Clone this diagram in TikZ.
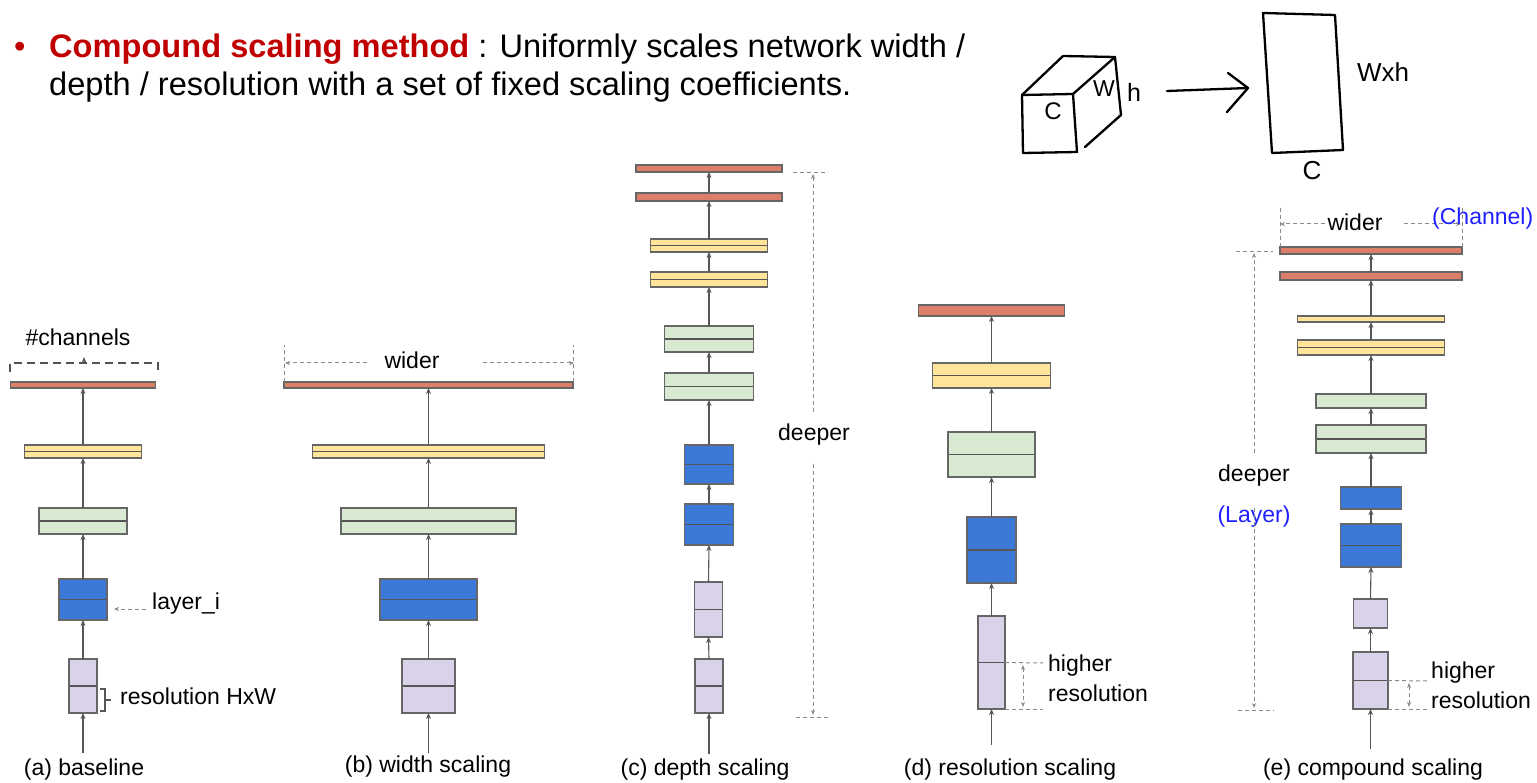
\documentclass[tikz,border=0pt]{standalone}
\usepackage{fontspec}
\setmainfont{Liberation Sans}
\usetikzlibrary{arrows.meta,fit}

\definecolor{barred}{HTML}{DD7E6B}
\definecolor{baryellow}{HTML}{FFE599}
\definecolor{bargreen}{HTML}{D9EAD3}
\definecolor{barblue}{HTML}{3C78D8}
\definecolor{barpurple}{HTML}{D9D2E9}
\definecolor{edgegray}{HTML}{666666}
\definecolor{flowgray}{HTML}{555555}
\definecolor{guidegray}{HTML}{8A8A8A}
\definecolor{titlered}{HTML}{C00000}
\definecolor{notebluec}{HTML}{1F1FFF}

% a layer drawn as a box between two rows, centred on a column
\newcommand\layerbox[6]{\node[#2, fit={({#3-#6/2},#4) ({#3+#6/2},#5)}] (#1) {};}

\tikzset{
  lay/.style={draw=edgegray, line width=1.1pt, inner sep=0pt, outer sep=0pt},
  lred/.style={lay, fill=barred},
  lyel/.style={lay, fill=baryellow},
  lgrn/.style={lay, fill=bargreen},
  lblu/.style={lay, fill=barblue},
  lpur/.style={lay, fill=barpurple},
  halved/.style={path picture={\draw[flowgray, line width=1.6pt]
      (path picture bounding box.west) -- (path picture bounding box.east);}},
  flow/.style={flowgray, line width=1.1pt, -{Stealth[length=6pt,width=5pt]}},
  guide/.style={guidegray, line width=1pt, dash pattern=on 4pt off 3pt},
  guidearrow/.style={guide, -{Stealth[length=5pt,width=4pt]}},
  guidetwo/.style={guide, {Stealth[length=5pt,width=4pt]}-{Stealth[length=5pt,width=4pt]}},
  lbl/.style={inner sep=0pt, font=\fontsize{23}{27}\selectfont},
  note/.style={lbl, text=notebluec},
  ink/.style={line width=2.3pt, line cap=round, line join=round},
  hand/.style={inner sep=0pt, font=\fontsize{24}{24}\selectfont}
}

\begin{document}
\begin{tikzpicture}[x=1pt, y=-1pt]
\useasboundingbox (0,0) rectangle (1537,783);

% ---------- heading ----------
\node[anchor=base west, inner sep=0pt, text=titlered, font=\fontsize{32.6}{39}\selectfont] (bullet) at (14,58) {•};
\node[anchor=base west, inner sep=0pt, font=\fontsize{32.6}{39}\selectfont] (line1) at (49,58)
  {\textcolor{titlered}{\textbf{Compound scaling method}} : Uniformly scales network width /};
\node[anchor=base west, inner sep=0pt, font=\fontsize{32.6}{39}\selectfont] (line2) at (49,96)
  {depth / resolution with a set of fixed scaling coefficients.};

% ---------- sketch: feature map flattened ----------
\draw[ink] (1022,95) -- (1073,94) -- (1077,152) -- (1023,153) -- cycle;
\draw[ink] (1022,95) -- (1063,56) -- (1115,57) -- (1073,94);
\draw[ink] (1115,57) -- (1121,115) -- (1085,147);
\node[hand] (cubec) at (1053,111) {C};
\node[hand, font=\fontsize{23}{23}\selectfont] (cubew) at (1104,89) {W};
\node[hand, font=\fontsize{25}{25}\selectfont] (cubeh) at (1134,92) {h};
\draw[ink] (1167,91) -- (1248,88);
\draw[ink] (1228,73) -- (1248,88) -- (1227,112);
\draw[ink] (1263,13) -- (1335,15) -- (1343,150) -- (1272,153) -- cycle;
\node[hand, font=\fontsize{26}{26}\selectfont] (flatwh) at (1383,72) {Wxh};
\node[hand, font=\fontsize{26}{26}\selectfont] (flatc) at (1312,171) {C};

% ---------- (a) baseline ----------
\layerbox{a1}{lred}{83}{382}{388}{145}
\layerbox{a2}{lyel,halved}{83}{445}{458}{117}
\layerbox{a3}{lgrn,halved}{83}{508}{534}{88}
\layerbox{a4}{lblu,halved}{83}{579}{620}{48}
\layerbox{a5}{lpur,halved}{83}{659}{713}{28}
\coordinate (ain) at (83,753);
\draw[flow] (ain) -- (a5.south);
\foreach \lo/\hi in {a5/a4,a4/a3,a3/a2,a2/a1} \draw[flow] (\lo.north) -- (\hi.south);

\node[lbl] (chan) at (78,337) {\#channels};
\draw[edgegray!80!black, line width=2pt, dash pattern=on 8pt off 5pt] (10,372) -- (10,363) -- (158,363) -- (158,372);
\coordinate (chtip) at (84,357);
\draw[flowgray, line width=1pt, -{Stealth[length=6pt,width=5pt]}] (84,364) -- (chtip);
\node[lbl, anchor=west] (layi) at (152,604) {layer\_i};
\coordinate (layitip) at (114,609);
\draw[guidearrow] (layi.west |- layitip) ++(-6,0) -- (layitip);
\draw[flowgray, line width=2pt] (100,689) -- (105,689) -- (105,711) -- (100,711) (105,700) -- (111,700);
\node[lbl, anchor=west] (resa) at (120,696) {resolution HxW};
\node[lbl] (capa) at (84,770) {(a) baseline};

% ---------- (b) width scaling ----------
\layerbox{b1}{lred}{428.5}{382}{388}{289}
\layerbox{b2}{lyel,halved}{428.5}{445}{458}{232}
\layerbox{b3}{lgrn,halved}{428.5}{508}{534}{175}
\layerbox{b4}{lblu,halved}{428.5}{579}{620}{97}
\layerbox{b5}{lpur,halved}{428.5}{659}{713}{53}
\coordinate (bin) at (428.5,753);
\draw[flow] (bin) -- (b5.south);
\foreach \lo/\hi in {b5/b4,b4/b3,b3/b2,b2/b1} \draw[flow] (\lo.north) -- (\hi.south);

\draw[guide] (b1.north west) -- ++(0,-37);
\draw[guide] (b1.north east) -- ++(0,-37);
\node[lbl] (widerb) at (412,360) {wider};
\coordinate (bl) at (285,363);
\coordinate (br) at (574,363);
\draw[guidearrow] (367,363) -- (bl);
\draw[guidearrow] (483,363) -- (br);
\node[lbl] (capb) at (428,767) {(b) width scaling};

% ---------- (c) depth scaling ----------
\layerbox{c1}{lred}{709}{165}{172}{146}
\layerbox{c2}{lred}{709}{193}{201}{146}
\layerbox{c3}{lyel,halved}{709}{239}{252}{117}
\layerbox{c4}{lyel,halved}{709}{272}{287}{117}
\layerbox{c5}{lgrn,halved}{709}{326}{352}{89}
\layerbox{c6}{lgrn,halved}{709}{373}{400}{89}
\layerbox{c7}{lblu,halved}{709}{445}{484}{49}
\layerbox{c8}{lblu,halved}{709}{504}{545}{49}
\layerbox{c9}{lpur,halved}{708.5}{582}{637}{28}
\layerbox{c10}{lpur,halved}{709}{659}{713}{28}
\coordinate (cin) at (709,754);
\draw[flow] (cin) -- (c10.south);
\foreach \lo/\hi in {c10/c9,c9/c8,c8/c7,c7/c6,c6/c5,c5/c4,c4/c3,c3/c2,c2/c1}
  \draw[flow] (\lo.north) -- (\hi.south);

\node[lbl] (deepc) at (814,435) {deeper};
\draw[guide] (793,173) -- (828,173);
\draw[guide] (796,717) -- (831,717);
\coordinate (ctop) at (813,174);
\coordinate (cbot) at (813,715);
\draw[guidearrow] (deepc.north -| ctop) ++(0,-12) -- (ctop);
\draw[guidearrow] (deepc.south -| cbot) ++(0,18) -- (cbot);
\node[lbl] (capc) at (705,770) {(c) depth scaling};

% ---------- (d) resolution scaling ----------
\layerbox{d1}{lred}{991.5}{305}{316}{146}
\layerbox{d2}{lyel,halved}{991.5}{363}{388}{118}
\layerbox{d3}{lgrn,halved}{991.5}{432}{477}{87}
\layerbox{d4}{lblu,halved}{991.5}{517}{583}{49}
\layerbox{d5}{lpur,halved}{991.5}{616}{709}{27}
\coordinate (din) at (991.5,745);
\draw[flow] (din) -- (d5.south);
\foreach \lo/\hi in {d5/d4,d4/d3,d3/d2,d2/d1} \draw[flow] (\lo.north) -- (\hi.south);

\draw[guide] (d5.east) -- (1043,663);
\draw[guide] (d5.south east) -- (1043,709);
\coordinate (dh1) at (1023,665);
\coordinate (dh2) at (1023,707);
\draw[guidetwo] (dh1) -- (dh2);
\node[lbl, anchor=west] (highd) at (1048,666) {higher};
\node[lbl, anchor=west] (resd) at (1048,693) {resolution};
\node[lbl] (capd) at (1010,770) {(d) resolution scaling};

% ---------- (e) compound scaling ----------
\layerbox{e1}{lred}{1371}{247}{254}{182}
\layerbox{e2}{lred}{1371}{272}{280}{182}
\layerbox{e3}{lyel}{1371}{316}{322}{147}
\layerbox{e4}{lyel,halved}{1371}{340}{355}{147}
\layerbox{e5}{lgrn}{1371}{394}{408}{110}
\layerbox{e6}{lgrn,halved}{1371}{425}{453}{110}
\layerbox{e7}{lblu}{1371}{487}{509}{61}
\layerbox{e8}{lblu,halved}{1371}{524}{567}{61}
\layerbox{e9}{lpur}{1370.5}{599}{628}{34}
\layerbox{e10}{lpur,halved}{1370.5}{652}{709}{35}
\coordinate (ein) at (1370.5,749);
\draw[flow] (ein) -- (e10.south);
\foreach \lo/\hi in {e10/e9,e9/e8,e8/e7,e7/e6,e6/e5,e5/e4,e4/e3,e3/e2,e2/e1}
  \draw[flow] (\lo.north) -- (\hi.south);

% wider (channel)
\draw[guide] (e1.north west) -- ++(0,-42);
\draw[guide] (e1.north east) -- ++(0,-42);
\node[lbl] (widere) at (1355,222) {wider};
\coordinate (el) at (1280,224);
\coordinate (er) at (1461,224);
\draw[guidearrow] (1325,224) -- (el);
\draw[guidearrow] (1404,224) -- (er);
\node[note, anchor=west] (chnote) at (1432,219) {(Channel)};

% deeper (layer)
\draw[guide] (1236,252) -- (1273,252);
\draw[guide] (1238,710) -- (1274,710);
\node[lbl] (deepe) at (1254,476) {deeper};
\node[note] (laynote) at (1254,517) {(Layer)};
\coordinate (etop) at (1254,253);
\coordinate (ebot) at (1254,708);
\draw[guidearrow] (deepe.north -| etop) ++(0,-12) -- (etop);
\draw[guidearrow] (laynote.south -| ebot) ++(0,-20) -- (ebot);

% higher resolution
\draw[guide] (e10.east) -- (1430,681);
\draw[guide] (e10.south east) -- (1430,709);
\coordinate (eh1) at (1409,683);
\coordinate (eh2) at (1409,707);
\draw[guidetwo] (eh1) -- (eh2);
\node[lbl, anchor=west] (highe) at (1431,673) {higher};
\node[lbl, anchor=west] (rese) at (1431,700) {resolution};
\node[lbl] (cape) at (1373,770) {(e) compound scaling};

\end{tikzpicture}
\end{document}
